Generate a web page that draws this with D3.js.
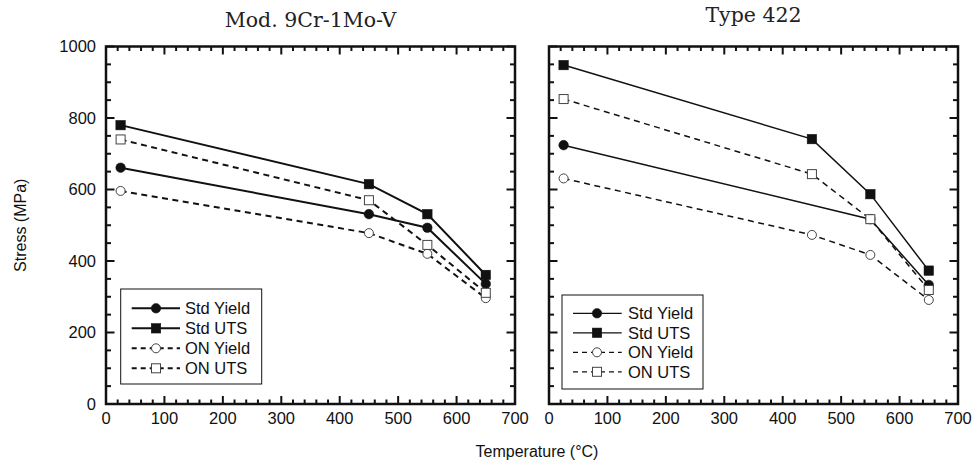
<!DOCTYPE html>
<head>
  <meta charset="utf-8">
  <script src="https://d3js.org/d3.v7.min.js"></script>
  <style>
    body { margin:0; background:#fff; }
    text { font-family: 'Liberation Sans', Arial, sans-serif; fill: #111; }
    .title { font-family: 'DejaVu Serif', serif; font-size: 20.5px; text-anchor: middle; fill: #222; }
    .tick-label { font-size: 16.5px; }
    .axis-label { font-size: 16px; text-anchor: middle; }
    .frame { fill: none; stroke: #111; stroke-width: 2.5; }
    .tick { stroke: #111; stroke-width: 2; }
    .legend-box { fill: #fff; stroke: #111; stroke-width: 1; }
    .legend-text { font-size: 16.5px; }
  </style>
</head>

<body>
  <script>
    // temperatures (°C)
    var temps = [25, 450, 550, 650];

    // Mod. 9Cr-1Mo-V  (MPa)
    var mod9StdYield = [661, 531, 493, 336];
    var mod9StdUTS   = [780, 615, 531, 361];
    var mod9OnYield  = [596, 478, 420, 296];
    var mod9OnUTS    = [740, 570, 445, 311];

    // Type 422 (MPa) -- Std Yield has no point at 450
    var t422StdYield = [724, null, 517, 333];
    var t422StdUTS   = [948, 741, 587, 373];
    var t422OnYield  = [631, 473, 417, 291];
    var t422OnUTS    = [853, 643, 517, 319];

    var seriesNames = ["Std Yield", "Std UTS", "ON Yield", "ON UTS"];
    var panelTitles = ["Mod. 9Cr-1Mo-V", "Type 422"];
    var xTicks = [0, 100, 200, 300, 400, 500, 600, 700];
    var yTicks = [0, 200, 400, 600, 800, 1000];

    var W = 972, H = 465;
    var svg = d3.select("body").append("svg")
        .attr("width", W)
        .attr("height", H);

    var styles = [
      {shape: "circle", filled: true,  dash: null},
      {shape: "square", filled: true,  dash: null},
      {shape: "circle", filled: false, dash: "6,4.5"},
      {shape: "square", filled: false, dash: "6,4.5"}
    ];

    var panels = [
      {left: 106, right: 515, title: panelTitles[0], titleY: 27, lw: 2, legLw: 2,
       data: [mod9StdYield, mod9StdUTS, mod9OnYield, mod9OnUTS],
       legend: {x: 120.7, y: 289, w: 141, h: 95, lx1: 131.7, lx2: 180, mx: 156, tx: 185, row0: 308.3, dy: 20}},
      {left: 549, right: 958, title: panelTitles[1], titleY: 22, lw: 1.5, legLw: 1.2,
       data: [t422StdYield, t422StdUTS, t422OnYield, t422OnUTS],
       legend: {x: 562, y: 295, w: 141, h: 94, lx1: 573, lx2: 621.7, mx: 597, tx: 628, row0: 313.3, dy: 19.5}}
    ];

    var plotTop = 46.5, plotBottom = 404;
    var y = d3.scaleLinear().domain([0, 1000]).range([plotBottom, plotTop]);

    function drawMarker(g, shape, filled, cx, cy) {
      var m;
      if (shape === "circle") {
        m = g.append("circle").attr("cx", cx).attr("cy", cy).attr("r", filled ? 4.8 : 4.5);
      } else {
        var s = filled ? 9.5 : 9;
        m = g.append("rect").attr("x", cx - s / 2).attr("y", cy - s / 2).attr("width", s).attr("height", s);
      }
      if (filled) m.attr("fill", "#111").attr("stroke", "#111").attr("stroke-width", 0.5);
      else m.attr("fill", "#fff").attr("stroke", "#444").attr("stroke-width", 1);
    }

    panels.forEach(function(p, pi) {
      var x = d3.scaleLinear().domain([0, 700]).range([p.left, p.right]);
      var g = svg.append("g");

      // title
      g.append("text").attr("class", "title")
        .attr("x", (p.left + p.right) / 2).attr("y", p.titleY)
        .text(p.title);

      // minor / major ticks on all four sides, pointing inward
      d3.range(0, 701, 20).forEach(function(t) {
        var len = t % 100 === 0 ? 8 : 4.5;
        g.append("line").attr("class", "tick")
          .attr("x1", x(t)).attr("x2", x(t)).attr("y1", plotBottom).attr("y2", plotBottom - len);
        g.append("line").attr("class", "tick")
          .attr("x1", x(t)).attr("x2", x(t)).attr("y1", plotTop).attr("y2", plotTop + len);
      });
      d3.range(0, 1001, 50).forEach(function(t) {
        var len = t % 200 === 0 ? 8.5 : 5;
        g.append("line").attr("class", "tick")
          .attr("x1", p.left).attr("x2", p.left + len).attr("y1", y(t)).attr("y2", y(t));
        g.append("line").attr("class", "tick")
          .attr("x1", p.right).attr("x2", p.right - len).attr("y1", y(t)).attr("y2", y(t));
      });

      // x tick labels
      g.selectAll(".xl").data(xTicks).enter().append("text")
        .attr("class", "tick-label")
        .attr("x", d => x(d)).attr("y", 423.5)
        .attr("text-anchor", "middle")
        .text(d => d);

      // y tick labels only on left panel
      if (pi === 0) {
        g.selectAll(".yl").data(yTicks).enter().append("text")
          .attr("class", "tick-label")
          .attr("x", 96).attr("y", d => y(d) + 5.5)
          .attr("text-anchor", "end")
          .text(d => d);
      }

      // series
      p.data.forEach(function(vals, si) {
        var st = styles[si];
        var pts = temps.map((t, i) => [t, vals[i]]).filter(d => d[1] != null);
        var line = d3.line().x(d => x(d[0])).y(d => y(d[1]));
        g.append("path")
          .attr("d", line(pts))
          .attr("fill", "none")
          .attr("stroke", "#111")
          .attr("stroke-width", p.lw)
          .attr("stroke-dasharray", st.dash);
        pts.forEach(function(d) {
          drawMarker(g, st.shape, st.filled, x(d[0]), y(d[1]));
        });
      });

      // frame
      g.append("rect").attr("class", "frame")
        .attr("x", p.left).attr("y", plotTop)
        .attr("width", p.right - p.left).attr("height", plotBottom - plotTop);

      // legend
      var L = p.legend;
      g.append("rect").attr("class", "legend-box")
        .attr("x", L.x).attr("y", L.y).attr("width", L.w).attr("height", L.h);
      seriesNames.forEach(function(name, si) {
        var st = styles[si];
        var cy = L.row0 + si * L.dy;
        g.append("line")
          .attr("x1", L.lx1).attr("x2", L.lx2).attr("y1", cy).attr("y2", cy)
          .attr("stroke", "#111").attr("stroke-width", p.legLw)
          .attr("stroke-dasharray", st.dash ? "5,4" : null);
        drawMarker(g, st.shape, st.filled, L.mx, cy);
        g.append("text").attr("class", "legend-text")
          .attr("x", L.tx).attr("y", cy + 6)
          .text(name);
      });
    });

    // axis labels
    svg.append("text").attr("class", "axis-label")
      .attr("transform", "translate(26," + ((plotTop + plotBottom) / 2) + ") rotate(-90)")
      .text("Stress (MPa)");

    svg.append("text").attr("class", "axis-label")
      .attr("x", 537).attr("y", 457)
      .text("Temperature (°C)");
  </script>
</body>
